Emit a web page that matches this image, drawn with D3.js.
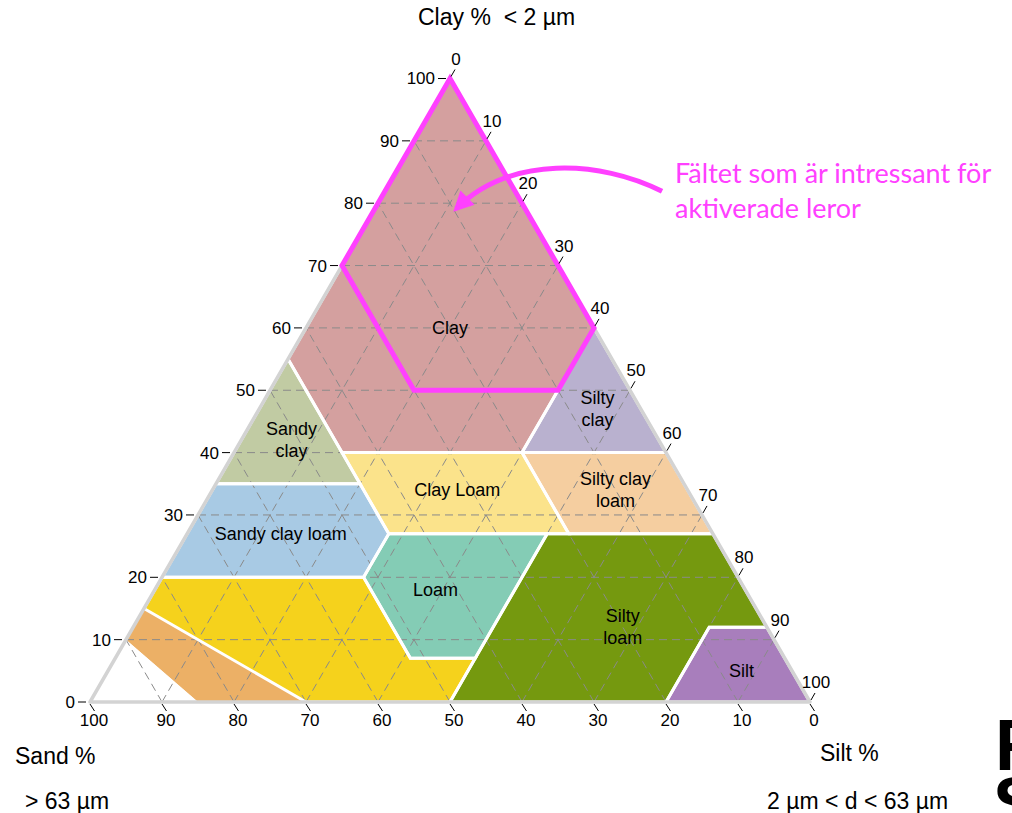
<!DOCTYPE html>
<html><head><meta charset="utf-8">
<script src="https://cdn.jsdelivr.net/npm/d3@7"></script>
<style>
body{margin:0;background:#fff;overflow:hidden}
svg{display:block}
text{font-family:"Liberation Sans",Arial,sans-serif;fill:#000}
</style>
</head><body>
<svg id="chart" width="1012" height="813"></svg>
<script>
// ---------- DATA (compositions as [sand, silt, clay] in %) ----------
const regionNames = ["Clay","Silty clay","Sandy clay","Silty clay loam","Clay loam","Sandy clay loam","Loam","Silty loam","Silt","Sandy loam","Loamy sand","Sand"];
const regionPolygons = [
  [[45,0,55],[0,0,100],[0,40,60],[20,40,40],[45,15,40]],           // Clay
  [[0,40,60],[0,60,40],[20,40,40]],                                // Silty clay
  [[65,0,35],[45,0,55],[45,15,40],[45,20,35]],                     // Sandy clay
  [[20,40,40],[0,60,40],[0,73,27],[20,53,27]],                     // Silty clay loam
  [[45,15,40],[20,40,40],[20,53,27],[45,28,27],[45,20,35]],        // Clay loam
  [[80,0,20],[65,0,35],[45,20,35],[45,28,27],[52,28,20]],          // Sandy clay loam
  [[45,28,27],[23,50,27],[43,50,7],[52,41,7],[52,28,20]],          // Loam
  [[23,50,27],[0,73,27],[0,88,12],[8,80,12],[20,80,0],[50,50,0],[43,50,7]], // Silty loam
  [[8,80,12],[0,88,12],[0,100,0],[20,80,0]],                       // Silt
  [[85,0,15],[80,0,20],[52,28,20],[52,41,7],[43,50,7],[50,50,0],[70,30,0]], // Sandy loam
  [[90,0,10],[85,0,15],[70,30,0],[85,15,0]],                       // Loamy sand
  [[100,0,0],[90,0,10],[85,15,0]]                                  // Sand
];
const regionColors = ["#d4a09f","#b9b1cf","#c1cba3","#f5cea0","#fbe38b","#a8cae4","#84ccb5","#75990f","#a87ebc","#f5d21c","#ecb066","#ffffff"];
const regionOutlined = [true,true,true,true,true,true,true,true,true,true,false,false];
const labelLines = [["Clay"],["Silty","clay"],["Sandy","clay"],["Silty clay","loam"],["Clay Loam"],["Sandy clay loam"],["Loam"],["Silty","loam"],["Silt"],[],[],[]];
const labelPoints = [[20,20,60],[6,47,47],[51,7,42],[10,56,34],[32,34,34],[60,13,27],[43,39,18],[20,68,12],[7,88,5],null,null,null];

const tickValues = [0,10,20,30,40,50,60,70,80,90,100];
const highlightPolygon = [[0,0,100],[0,40,60],[10,40,50],[30,20,50],[30,0,70]];
const arrowPoints = [[-20.4,38.5,81.9],[-14.3,27.4,86.9],[-2.2,14.5,87.7],[9.6,11.3,79.1]];
const annotationLines = ["Fältet som är intressant för","aktiverade leror"];

// ---------- SCALES ----------
const xS = d3.scaleLinear().domain([0,100]).range([90,810]);
const yS = d3.scaleLinear().domain([0,100]).range([702,78.5]);
const proj = ([s,t,c]) => [xS(t + c/2), yS(c)];
const svg = d3.select("#chart");
const line = d3.line();

// regions
svg.append("g").selectAll("path").data(regionPolygons).join("path")
  .attr("d", p => line(p.map(proj)) + "Z")
  .attr("fill", (p,i) => regionColors[i]);

// grid (dashed)
const grid = svg.append("g").attr("stroke","#8a8a8a").attr("stroke-width",1).attr("stroke-dasharray","8,5").attr("fill","none");
tickValues.filter(v => v>0 && v<100).forEach(v => {
  grid.append("path").attr("d", line([proj([100-v,0,v]), proj([0,100-v,v])]));   // clay const
  grid.append("path").attr("d", line([proj([v,100-v,0]), proj([v,0,100-v])]));   // sand const
  grid.append("path").attr("d", line([proj([100-v,v,0]), proj([0,v,100-v])]));   // silt const
});

// white boundaries
svg.append("g").selectAll("path").data(regionPolygons.filter((p,i)=>regionOutlined[i])).join("path")
  .attr("d", p => line(p.map(proj)) + "Z")
  .attr("fill","none").attr("stroke","#fff").attr("stroke-width",3).attr("stroke-linejoin","miter");

// triangle border
svg.append("path").attr("d", line([proj([100,0,0]),proj([0,100,0]),proj([0,0,100])]) + "Z")
  .attr("fill","none").attr("stroke","#d3d3d3").attr("stroke-width",3.5).attr("stroke-linejoin","round");

// highlight hexagon
svg.append("path").attr("d", line(highlightPolygon.map(proj)) + "Z")
  .attr("fill","none").attr("stroke","#ff40ff").attr("stroke-width",5).attr("stroke-linejoin","miter");

// arrow
svg.append("defs").append("marker").attr("id","ah").attr("viewBox","0 0 10 10")
  .attr("refX",8).attr("refY",5).attr("markerWidth",4.2).attr("markerHeight",4)
  .attr("markerUnits","strokeWidth").attr("orient","auto")
  .append("path").attr("d","M0,0L10,5L0,10Z").attr("fill","#ff40ff");
const ap = arrowPoints.map(proj);
svg.append("path").attr("d", `M${ap[0]}C${ap[1]} ${ap[2]} ${ap[3]}`)
  .attr("fill","none").attr("stroke","#ff40ff").attr("stroke-width",5).attr("marker-end","url(#ah)");

// ticks
const ticks = svg.append("g").attr("stroke","#000").attr("stroke-width",1);
const tl = svg.append("g").attr("font-size",17);
tickValues.forEach(v => {
  // left: clay
  let [x,y] = proj([100-v,0,v]);
  ticks.append("line").attr("x1",x-12).attr("x2",x-4).attr("y1",y).attr("y2",y);
  tl.append("text").attr("x",x-15).attr("y",y).attr("dy","0.35em").attr("text-anchor","end").text(v);
  // bottom: sand
  [x,y] = proj([v,100-v,0]);
  ticks.append("line").attr("x1",x).attr("x2",x+4.5).attr("y1",y+2).attr("y2",y+9);
  tl.append("text").attr("x",x+4).attr("y",y+24).attr("text-anchor","middle").text(v);
  // right: silt
  [x,y] = proj([0,v,100-v]);
  ticks.append("line").attr("x1",x+1).attr("x2",x+5).attr("y1",y-2).attr("y2",y-9);
  tl.append("text").attr("x",x+6).attr("y",y-14).attr("text-anchor","middle").text(v);
});

// region labels
labelLines.forEach((ls,i) => {
  if (!ls.length) return;
  const [x,y] = proj(labelPoints[i]);
  const t = svg.append("text").attr("font-size",18).attr("text-anchor","middle");
  ls.forEach((s,k) => t.append("tspan").attr("x",x).attr("y", y + (k - (ls.length-1)/2)*22).attr("dy","0.35em").text(s));
});

// axis titles
const titles = svg.append("g").attr("font-size",23);
titles.append("text").attr("x",418).attr("y",25).text("Clay %\u00a0 < 2 µm");
titles.append("text").attr("x",15).attr("y",764).text("Sand %");
titles.append("text").attr("x",25).attr("y",809).text("> 63 µm");
titles.append("text").attr("x",820).attr("y",761).text("Silt %");
titles.append("text").attr("x",767).attr("y",809).text("2 µm < d < 63 µm");

// annotation text
annotationLines.forEach((s,k) => svg.append("text").attr("x",675).attr("y",183 + k*35)
  .style("font-family","Lato, 'Open Sans', sans-serif").style("fill","#ff40ff").attr("font-size",27).text(s));

// cropped logo
svg.append("text").attr("x",995).attr("y",770).attr("font-size",72).attr("font-weight","bold").text("R");
svg.append("text").attr("x",993).attr("y",828).attr("font-size",72).attr("font-weight","bold").text("S");
</script>
</body></html>
